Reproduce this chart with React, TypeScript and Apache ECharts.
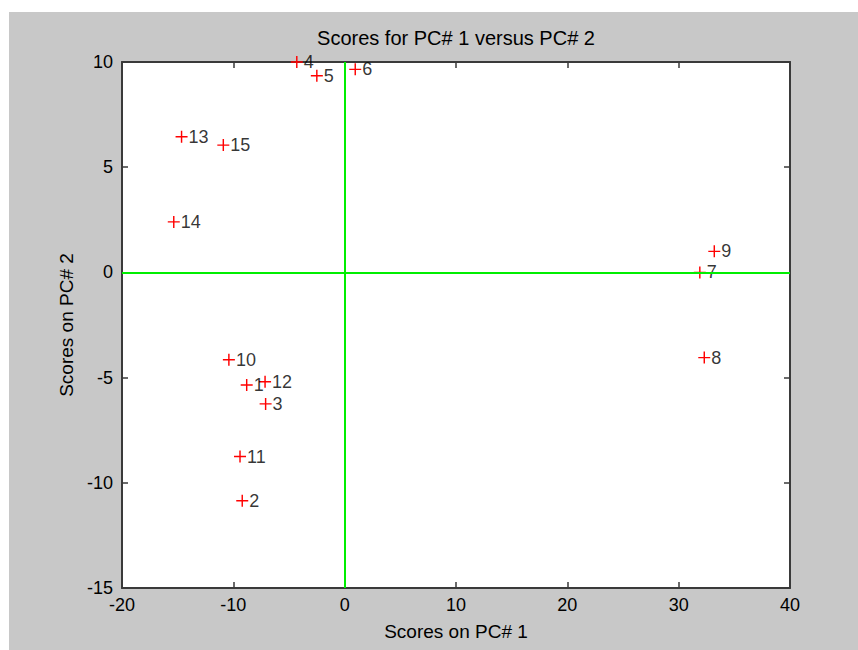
import React, { useEffect, useRef } from "react";
import * as echarts from "echarts";

// PCA scores: sample number, score on PC 1, score on PC 2
const sampleNames = ["1", "2", "3", "4", "5", "6", "7", "8", "9", "10", "11", "12", "13", "14", "15"];
const pc1Scores = [-8.8, -9.2, -7.1, -4.3, -2.5, 0.95, 31.9, 32.3, 33.2, -10.4, -9.4, -7.15, -14.65, -15.35, -10.9];
const pc2Scores = [-5.35, -10.85, -6.25, 10.0, 9.35, 9.65, 0.0, -4.05, 1.0, -4.15, -8.75, -5.2, 6.45, 2.4, 6.05];

const xRange = { min: -20, max: 40, interval: 10 };
const yRange = { min: -15, max: 10, interval: 5 };

const FONT = "'Liberation Sans', Arial, Helvetica, sans-serif";
const TEXT = "#000000";
const AXIS = "#3a3a3a";

// filled "+" marker
const PLUS = "path://M0,4.4H4.4V0H5.6V4.4H10V5.6H5.6V10H4.4V5.6H0Z";

export default function App() {
  const ref = useRef<HTMLDivElement>(null);

  useEffect(() => {
    if (!ref.current) return;
    const chart = echarts.init(ref.current, null, { renderer: "svg" });

    const points = sampleNames.map((n, i) => ({ name: n, value: [pc1Scores[i], pc2Scores[i]] }));

    const axisCommon = {
      axisLine: { show: true, onZero: false, lineStyle: { color: AXIS, width: 2 } },
      axisTick: { show: true, inside: true, length: 6, lineStyle: { color: AXIS, width: 1.5 } },
      splitLine: { show: false },
    };

    chart.setOption({
      animation: false,
      backgroundColor: "#c8c8c8",
      textStyle: { fontFamily: FONT },
      grid: {
        left: 113,
        top: 50,
        right: 68,
        bottom: 62,
        show: true,
        backgroundColor: "#ffffff",
        borderWidth: 0,
      },
      graphic: [
        {
          type: "text",
          x: 447,
          y: 26,
          style: {
            text: "Scores for PC# 1 versus PC# 2",
            fontFamily: FONT,
            fontSize: 20,
            fill: TEXT,
            textAlign: "center",
            textVerticalAlign: "middle",
          },
        },
      ],
      xAxis: [
        {
          type: "value",
          position: "bottom",
          ...xRange,
          ...axisCommon,
          name: "Scores on PC# 1",
          nameLocation: "middle",
          nameGap: 34,
          nameTextStyle: { color: TEXT, fontSize: 19, fontFamily: FONT },
          axisLabel: { color: TEXT, fontSize: 18, margin: 8, fontFamily: FONT },
        },
        {
          type: "value",
          position: "top",
          ...xRange,
          ...axisCommon,
          axisLabel: { show: false },
        },
      ],
      yAxis: [
        {
          type: "value",
          position: "left",
          ...yRange,
          ...axisCommon,
          name: "Scores on PC# 2",
          nameLocation: "middle",
          nameGap: 44,
          nameTextStyle: { color: TEXT, fontSize: 19, fontFamily: FONT },
          axisLabel: { color: TEXT, fontSize: 18, margin: 9, fontFamily: FONT },
        },
        {
          type: "value",
          position: "right",
          ...yRange,
          ...axisCommon,
          axisLabel: { show: false },
        },
      ],
      series: [
        {
          type: "scatter",
          xAxisIndex: 0,
          yAxisIndex: 0,
          z: 2,
          symbol: PLUS,
          symbolSize: 12,
          itemStyle: { color: "#ff0000", opacity: 1 },
          data: points,
        },
        {
          // zero reference lines
          type: "scatter",
          xAxisIndex: 0,
          yAxisIndex: 0,
          z: 3,
          data: [],
          markLine: {
            silent: true,
            symbol: "none",
            label: { show: false },
            lineStyle: { color: "#00ee00", width: 2, type: "solid" },
            data: [{ xAxis: 0 }, { yAxis: 0 }],
          },
        },
        {
          // sample number labels
          type: "scatter",
          xAxisIndex: 0,
          yAxisIndex: 0,
          z: 4,
          symbol: "rect",
          symbolSize: 12,
          itemStyle: { color: "rgba(0,0,0,0)" },
          label: {
            show: true,
            position: "right",
            distance: 1,
            formatter: "{b}",
            color: TEXT,
            fontSize: 18,
            fontFamily: FONT,
          },
          data: points,
        },
      ],
    });

    return () => chart.dispose();
  }, []);

  return (
    <div
      ref={ref}
      style={{ position: "fixed", left: 9, top: 12, width: 849, height: 638 }}
    />
  );
}
